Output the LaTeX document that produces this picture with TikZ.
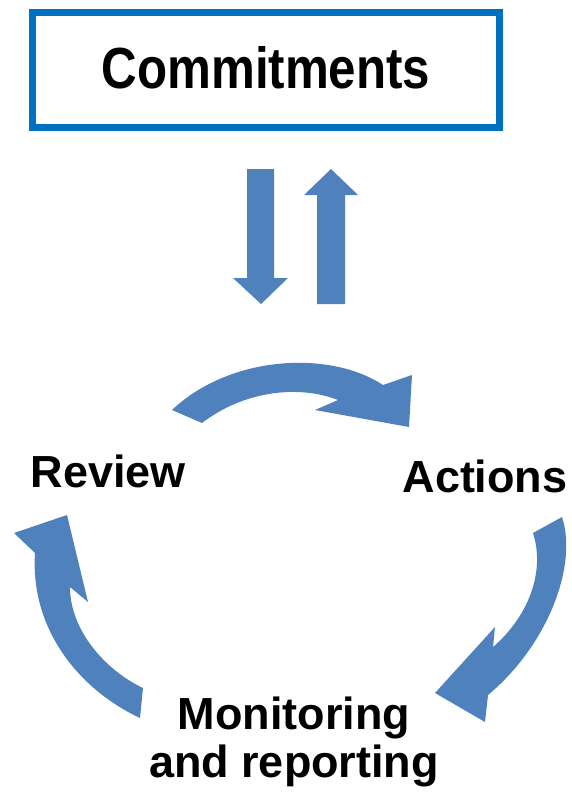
\documentclass[tikz,border=0pt]{standalone}
\usepackage{fontspec}
\setmainfont{Liberation Sans}
\newfontfamily\titlefont[FakeStretch=0.85]{Liberation Sans}
\definecolor{boxblue}{RGB}{0,112,192}
\definecolor{arrowblue}{RGB}{79,129,189}

\begin{document}
\begin{tikzpicture}[x=0.02cm, y=-0.02cm,
    steplabel/.style={font=\bfseries\fontsize{25.6}{26.8}\selectfont, anchor=base, inner sep=0pt, align=center},
    blockarrow/.style={fill=arrowblue}]
             \useasboundingbox (0,0) rectangle (572,796);

             \draw[boxblue, line width=0.14cm] (32.5,12.5) rectangle (499.5,127.5);
             \node[anchor=base, inner sep=0pt, font=\titlefont\bfseries\fontsize{33}{35}\selectfont] (commit) at (266,88) {Commitments};

             \fill[blockarrow] (247,169) -- (274,169) -- (274,278) -- (288,278) -- (261,304) -- (233,278) -- (247,278) -- cycle;
             \fill[blockarrow] (317,304) -- (345,304) -- (345,195) -- (358,195) -- (331,169) -- (304,195) -- (317,195) -- cycle;

             \node[steplabel] (review) at (108.5,487) {Review};
             \node[steplabel] (actions) at (485,492) {Actions};
             \node[steplabel] (monitor) at (294,777) {Monitoring\\and reporting};

             \fill[blockarrow] (172,410) .. controls (230,355) and (330,350) .. (383,385) -- (412,375) -- (409,427)
                 -- (315,410) -- (338,400) .. controls (300,385) and (245,390) .. (202,423) -- cycle;
             \fill[blockarrow] (562,517) .. controls (578,565) and (548,645) .. (488,695) -- (485,722) -- (435,693)
                 -- (495,627) -- (493,647) .. controls (530,615) and (545,570) .. (533,533) -- cycle;
             \fill[blockarrow] (140,718) .. controls (80,690) and (30,630) .. (35,553) -- (14,533) -- (67,515)
                 -- (88,602) -- (70,587) .. controls (70,630) and (105,670) .. (143,688) -- cycle;
         \end{tikzpicture}
\end{document}
